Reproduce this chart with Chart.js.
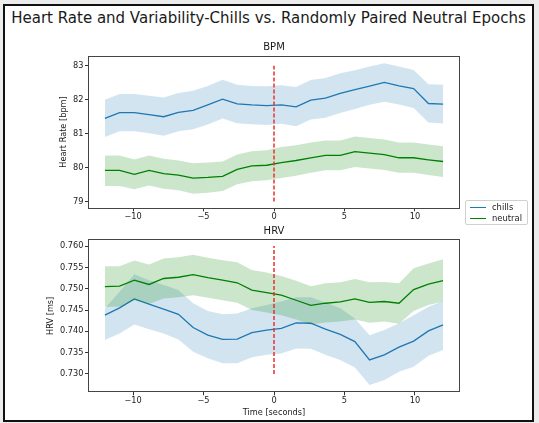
<!DOCTYPE html>
<html>
<head>
<meta charset="utf-8">
<script src="https://cdn.jsdelivr.net/npm/chart.js@4.4.1/dist/chart.umd.min.js"></script>
<style>
  body { margin: 0; background: #ececec; font-family: 'DejaVu Sans', sans-serif; }
  #frame { position: absolute; left: 3px; top: 4px; width: 527px; height: 414px; border: 2px solid #111; background: #fff; }
  #title { position: absolute; left: 3px; top: 8px; width: 531px; text-align: center; font-size: 15px; line-height: 20px; color: #1a1a1a; }
  canvas { position: absolute; left: 0; }
  #legend { position: absolute; left: 465px; top: 200px; width: 63px; height: 25px; border: 1px solid #d0d0d0; border-radius: 2px; background: rgba(255,255,255,0.85); font-size: 8.4px; color: #1a1a1a; padding-top: 1px; box-sizing: border-box; }
  #legend .row { position: relative; height: 11px; line-height: 11px; }
  #legend .sw { position: absolute; left: 4px; top: 5px; width: 16px; height: 1.3px; }
  #legend .lb { position: absolute; left: 26px; top: 0; }
</style>
</head>
<body>
<div id="frame"></div>
<div id="title">Heart Rate and Variability-Chills vs. Randomly Paired Neutral Epochs</div>
<canvas id="bpm" width="539" height="190" style="top:36px"></canvas>
<canvas id="hrv" width="539" height="200" style="top:222px"></canvas>
<div id="legend"></div>
<script>
// time axis (seconds relative to event)
const times = [-12, -10.96, -9.91, -8.87, -7.83, -6.78, -5.74, -4.70, -3.65, -2.61, -1.57, -0.52,
               0.52, 1.57, 2.61, 3.65, 4.70, 5.74, 6.78, 7.83, 8.87, 9.91, 10.96, 12];

const seriesNames = ['chills', 'neutral'];

// BPM
const bpmChills = [81.45, 81.62, 81.62, 81.56, 81.50, 81.63, 81.69, 81.85, 82.02, 81.88, 81.85, 81.83,
                   81.85, 81.79, 81.99, 82.05, 82.19, 82.30, 82.40, 82.51, 82.41, 82.33, 81.89, 81.87];
const bpmChillsHi = [82.00, 82.17, 82.17, 82.12, 82.07, 82.20, 82.27, 82.41, 82.59, 82.44, 82.41, 82.40,
                     82.43, 82.38, 82.58, 82.64, 82.78, 82.87, 82.98, 83.08, 82.98, 82.88, 82.46, 82.44];
const bpmChillsLo = [80.90, 81.07, 81.07, 81.01, 80.94, 81.07, 81.13, 81.27, 81.45, 81.31, 81.28, 81.26,
                     81.29, 81.22, 81.42, 81.47, 81.61, 81.73, 81.85, 81.94, 81.86, 81.76, 81.33, 81.30];
const bpmNeutral = [79.92, 79.92, 79.80, 79.92, 79.82, 79.78, 79.69, 79.71, 79.74, 79.95, 80.05, 80.07,
                    80.15, 80.21, 80.29, 80.36, 80.36, 80.47, 80.43, 80.38, 80.29, 80.29, 80.23, 80.18];
const bpmNeutralHi = [80.36, 80.36, 80.24, 80.36, 80.26, 80.21, 80.13, 80.15, 80.18, 80.39, 80.48, 80.51,
                      80.61, 80.66, 80.74, 80.80, 80.80, 80.92, 80.87, 80.83, 80.74, 80.74, 80.68, 80.63];
const bpmNeutralLo = [79.46, 79.46, 79.36, 79.47, 79.38, 79.33, 79.23, 79.26, 79.31, 79.51, 79.60, 79.63,
                      79.69, 79.76, 79.85, 79.92, 79.92, 80.02, 79.97, 79.93, 79.85, 79.85, 79.78, 79.72];

// HRV
const hrvChills = [0.7438, 0.7455, 0.7476, 0.7464, 0.7452, 0.7440, 0.7409, 0.7391, 0.7381, 0.7382, 0.7397, 0.7403,
                   0.7407, 0.7420, 0.7419, 0.7405, 0.7393, 0.7376, 0.7333, 0.7345, 0.7363, 0.7377, 0.7401, 0.7415];
const hrvChillsHi = [0.7454, 0.7493, 0.7534, 0.7520, 0.7509, 0.7497, 0.7466, 0.7448, 0.7440, 0.7442, 0.7454, 0.7462,
                     0.7470, 0.7480, 0.7480, 0.7468, 0.7454, 0.7430, 0.7391, 0.7403, 0.7419, 0.7438, 0.7458, 0.7471];
const hrvChillsLo = [0.7380, 0.7395, 0.7416, 0.7405, 0.7395, 0.7381, 0.7352, 0.7337, 0.7325, 0.7325, 0.7339, 0.7345,
                     0.7348, 0.7360, 0.7359, 0.7345, 0.7333, 0.7315, 0.7274, 0.7286, 0.7305, 0.7317, 0.7343, 0.7356];
const hrvNeutral = [0.7505, 0.7506, 0.7520, 0.7510, 0.7524, 0.7527, 0.7533, 0.7526, 0.7520, 0.7514, 0.7497, 0.7491,
                    0.7485, 0.7473, 0.7461, 0.7466, 0.7469, 0.7476, 0.7468, 0.7470, 0.7466, 0.7498, 0.7511, 0.7519];
const hrvNeutralHi = [0.7553, 0.7553, 0.7566, 0.7557, 0.7571, 0.7574, 0.7580, 0.7573, 0.7567, 0.7562, 0.7544, 0.7538,
                      0.7530, 0.7519, 0.7506, 0.7513, 0.7515, 0.7523, 0.7515, 0.7516, 0.7513, 0.7548, 0.7559, 0.7569];
const hrvNeutralLo = [0.7458, 0.7458, 0.7473, 0.7464, 0.7477, 0.7480, 0.7485, 0.7479, 0.7473, 0.7467, 0.7450, 0.7444,
                      0.7438, 0.7428, 0.7416, 0.7421, 0.7423, 0.7428, 0.7420, 0.7423, 0.7418, 0.7448, 0.7462, 0.7470];

// event marker ranges
const bpmMarker = [79, 83];
const hrvMarker = [0.730, 0.760];

const BLUE = '#1f77b4', BLUE_FILL = 'rgba(31,119,180,0.2)';
const GREEN = '#008000', GREEN_FILL = 'rgba(0,128,0,0.2)';
const TXT = '#1a1a1a';

Chart.defaults.font.family = "'DejaVu Sans', sans-serif";
Chart.defaults.color = TXT;

const pts = (ys) => times.map((t, i) => ({ x: t, y: ys[i] }));
const minus = (v) => (v < 0 ? '\u2212' + Math.abs(v) : String(v));

// draws the 4 spines like matplotlib
const boxPlugin = {
  id: 'box',
  afterDraw(chart) {
    const a = chart.chartArea, ctx = chart.ctx;
    ctx.save();
    ctx.strokeStyle = '#444';
    ctx.lineWidth = 1;
    ctx.strokeRect(Math.round(a.left) + 0.5, Math.round(a.top) + 0.5,
                   Math.round(a.right - a.left) - 1, Math.round(a.bottom - a.top) - 1);
    ctx.restore();
  }
};

function band(data, color, target) {
  return { data: pts(data), borderWidth: 0, borderColor: 'transparent', backgroundColor: color,
           pointRadius: 0, fill: target === undefined ? false : target };
}

function makeChart(id, cfg) {
  const datasets = [
    { data: [{ x: 0, y: cfg.marker[0] }, { x: 0, y: cfg.marker[1] }], borderColor: '#e8302c',
      borderWidth: 1.5, borderDash: [4, 2], pointRadius: 0, fill: false },
    { label: seriesNames[1], data: pts(cfg.neutral), borderColor: GREEN, borderWidth: 1.3, pointRadius: 0, fill: false },
    band(cfg.neutralHi, GREEN_FILL, 3),
    band(cfg.neutralLo, GREEN_FILL),
    { label: seriesNames[0], data: pts(cfg.chills), borderColor: BLUE, borderWidth: 1.3, pointRadius: 0, fill: false },
    band(cfg.chillsHi, BLUE_FILL, 6),
    band(cfg.chillsLo, BLUE_FILL)
  ];
  return new Chart(document.getElementById(id), {
    type: 'line',
    data: { datasets },
    plugins: [boxPlugin],
    options: {
      responsive: false,
      animation: false,
      devicePixelRatio: 1,
      layout: { padding: { left: 0, right: 79, top: 0, bottom: 3.7 } },
      plugins: {
        legend: { display: false },
        tooltip: { enabled: false },
        title: { display: true, text: cfg.title, fullSize: false, color: TXT,
                 font: { size: 10, weight: 'normal' }, padding: cfg.titlePad }
      },
      scales: {
        x: {
          type: 'linear', min: -13.2, max: 13.2,
          border: { display: false },
          grid: { drawOnChartArea: false, drawTicks: true, tickLength: 3, tickColor: '#333' },
          ticks: { stepSize: 5, includeBounds: false, padding: 1, font: { size: 8.2 }, color: TXT,
                   maxRotation: 0, callback: minus },
          title: { display: !!cfg.xTitle, text: cfg.xTitle || '', font: { size: 8.2 }, color: TXT,
                   padding: { top: 0, bottom: 0.8 } },
          afterFit(s) { s.height = cfg.xHeight; }
        },
        y: {
          min: cfg.yMin, max: cfg.yMax,
          border: { display: false },
          grid: { drawOnChartArea: false, drawTicks: true, tickLength: 3, tickColor: '#333' },
          ticks: { stepSize: cfg.yStep, includeBounds: false, padding: 1.5, font: { size: 8.2 }, color: TXT,
                   callback: cfg.yFmt },
          title: { display: true, text: cfg.yTitle, font: { size: 8.2 }, color: TXT,
                   padding: { top: cfg.yTitleX, bottom: 0 } },
          afterFit(s) { s.width = 88; }
        }
      }
    }
  });
}

const bpmChart = makeChart('bpm', {
  title: 'BPM', titlePad: { top: 5, bottom: 2.7 },
  chills: bpmChills, chillsHi: bpmChillsHi, chillsLo: bpmChillsLo,
  neutral: bpmNeutral, neutralHi: bpmNeutralHi, neutralLo: bpmNeutralLo,
  marker: bpmMarker, yMin: 78.8, yMax: 83.3, yStep: 1, yFmt: (v) => String(v),
  yTitle: 'Heart Rate [bpm]', yTitleX: 59, xHeight: 14
});

makeChart('hrv', {
  title: 'HRV', titlePad: { top: 3.7, bottom: 1.6 },
  chills: hrvChills, chillsHi: hrvChillsHi, chillsLo: hrvChillsLo,
  neutral: hrvNeutral, neutralHi: hrvNeutralHi, neutralLo: hrvNeutralLo,
  marker: hrvMarker, yMin: 0.7257, yMax: 0.7616, yStep: 0.005, yFmt: (v) => v.toFixed(3),
  yTitle: 'HRV [ms]', yTitleX: 45.6, xHeight: 26, xTitle: 'Time [seconds]'
});

// legend for the two mean lines, built from the top chart's datasets
const legend = document.getElementById('legend');
bpmChart.data.datasets.filter(d => d.label).reverse().forEach(d => {
  const row = document.createElement('div');
  row.className = 'row';
  row.innerHTML = '<span class="sw" style="background:' + d.borderColor + '"></span><span class="lb">' + d.label + '</span>';
  legend.appendChild(row);
});
</script>
</body>
</html>
